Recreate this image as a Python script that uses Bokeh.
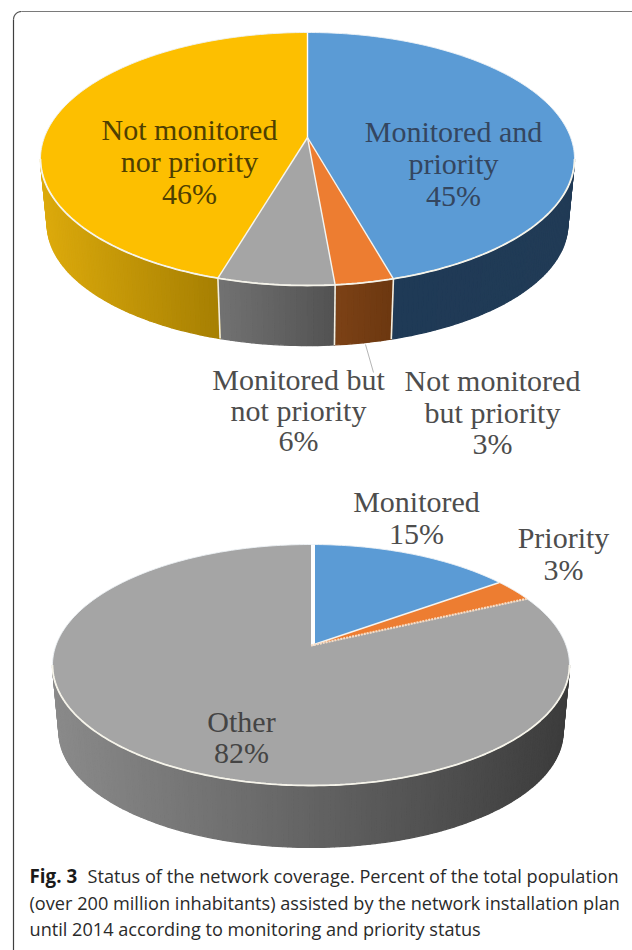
from math import sin, cos, radians, acos, degrees, sqrt

from bokeh.core.properties import value
from bokeh.embed import file_html
from bokeh.models import Range1d
from bokeh.plotting import figure
from bokeh.resources import INLINE

# Population shares per network status
upper_names = ["Monitored and priority", "Not monitored but priority",
               "Monitored but not priority", "Not monitored nor priority"]
upper_values = [45, 3, 6, 46]
upper_colors = ["#5b9bd5", "#ed7d31", "#a5a5a5", "#fdbf00"]
upper_side_left = ["#1f3a56", "#7c4216", "#727272", "#dcaa0c"]
upper_side_right = ["#213b56", "#6c3710", "#525252", "#a67f02"]

lower_names = ["Monitored", "Priority", "Other"]
lower_values = [15, 3, 82]
lower_colors = ["#5b9bd5", "#ed7d31", "#a5a5a5"]
lower_side_left = ["#1f3a58", "#7c4216", "#8a8a8a"]
lower_side_right = ["#213c5a", "#6c3710", "#3c3c3c"]

# Slice annotations: lines of text, centre x, first line y, line spacing, colour
upper_labels = [
    (["Not monitored", "nor priority", "46%"], 189, 129, 32, "#4f3f02"),
    (["Monitored and", "priority", "45%"], 453, 131, 32, "#34465f"),
    (["Monitored but", "not priority", "6%"], 298, 379, 30.5, "#4d4d4d"),
    (["Not monitored", "but priority", "3%"], 492, 380, 31.5, "#4d4d4d"),
]
lower_labels = [
    (["Monitored", "15%"], 416, 501, 32, "#4d4d4d"),
    (["Priority", "3%"], 563, 537, 32, "#4d4d4d"),
    (["Other", "82%"], 241, 721, 31, "#444444"),
]

caption_bold = "Fig. 3"
caption_lines = [
    "Status of the network coverage. Percent of the total population",
    "(over 200 million inhabitants) assisted by the network installation plan",
    "until 2014 according to monitoring and priority status",
]

SERIF = "Liberation Serif"
SANS = "Open Sans"

p = figure(width=632, height=950, output_backend="svg", toolbar_location=None,
           x_range=Range1d(0, 632), y_range=Range1d(950, 0), min_border=0)
p.axis.visible = False
p.grid.visible = False
p.outline_line_color = None
p.background_fill_color = "#ffffff"
p.border_fill_color = "#ffffff"


def mix(a, b, f):
    ca = [int(a[i:i + 2], 16) for i in (1, 3, 5)]
    cb = [int(b[i:i + 2], 16) for i in (1, 3, 5)]
    return "#%02x%02x%02x" % tuple(round(x + (y - x) * f) for x, y in zip(ca, cb))


def sweep(a, b, step=1.0):
    n = max(1, int(abs(b - a) / step))
    return [a + (b - a) * i / n for i in range(n + 1)]


def draw_pie(values, colors, side_left, side_right, geo):
    cx, cy, rx, back, front, depth_y, shrink, skew = (
        geo["cx"], geo["cy"], geo["rx"], geo["back"], geo["front"],
        geo["depth_y"], geo["shrink"], geo["skew"])
    # Perspective disc: derived from the apparent back and front radii
    k = (front - back) / (front + back)
    B = back * (1 + k)
    A = rx * sqrt(1 - k * k)

    def place(t, low=False):
        u, v = sin(radians(t)), -cos(radians(t))
        w = 1 - k * v
        if low:
            return cx + shrink * A * u / w, cy + depth_y + 0.96 * B * v / w
        return cx + A * u / w, cy + B * v / w

    def turned(share):
        t = share * 3.6
        return t + skew * sin(radians(t / 2)) ** 2

    edges = [0.0]
    for val in values:
        edges.append(edges[-1] + val)
    angles = [turned(e) for e in edges]

    t_right = degrees(acos(-k))
    t_left = 360 - t_right

    # Outer wall, built from narrow quads to give a horizontal colour ramp
    qx, qy, qc = [], [], []
    for i in range(len(values)):
        a, b = max(angles[i], t_right), min(angles[i + 1], t_left)
        if a >= b:
            continue
        lo = place(a)[0]
        hi = place(b)[0]
        ts = sweep(a, b)
        for t0, t1 in zip(ts[:-1], ts[1:]):
            p0, p1 = place(t0), place(t1)
            q1, q0 = place(t1, True), place(t0, True)
            qx.append([p0[0], p1[0], q1[0], q0[0]])
            qy.append([p0[1], p1[1], q1[1], q0[1]])
            f = (p0[0] + p1[0]) / 2
            f = (f - hi) / (lo - hi) if lo != hi else 0
            qc.append(mix(side_left[i], side_right[i], min(max(f, 0), 1)))
    p.patches(qx, qy, fill_color=qc, line_color=qc, line_width=1.3)

    # Slice dividers on the wall
    for ang in angles[1:-1]:
        if t_right < ang < t_left:
            top, low = place(ang), place(ang, True)
            p.line([top[0], low[0]], [top[1], low[1]], line_color="#f3efe2", line_width=1.6)

    # Top face
    for i in range(len(values)):
        rim = [place(t) for t in sweep(angles[i], angles[i + 1])]
        xs = [cx] + [r[0] for r in rim]
        ys = [cy] + [r[1] for r in rim]
        p.patch(xs, ys, fill_color=colors[i], line_color=None)

    # Pale edge around the whole disc, heavier along the front
    rim = [place(t) for t in sweep(0, 360)]
    p.line([r[0] for r in rim], [r[1] for r in rim], line_color="#eef3f6", line_width=0.9)
    rim = [place(t) for t in sweep(t_right, t_left)]
    p.line([r[0] for r in rim], [r[1] for r in rim], line_color="#f6f4ea", line_width=1.8)

    # Radial dividers
    for j, ang in enumerate(angles[:-1]):
        end = place(ang)
        if j == 0:
            nudge = geo["first_nudge"]
            p.line([cx + nudge, end[0] + nudge], [cy, end[1]], line_color="#ffffff",
                   line_width=geo["first_edge"])
        elif j == geo.get("dashed_edge"):
            p.line([cx, end[0]], [cy, end[1]], line_color="#f7dcc4", line_width=2.2,
                   line_dash="2 1")
        else:
            p.line([cx, end[0]], [cy, end[1]], line_color="#f4f4f0", line_width=1.4)


def draw_labels(entries):
    for lines, x, y, gap, color in entries:
        ys = [y + gap * i for i in range(len(lines))]
        p.text([x] * len(lines), ys, text=lines, text_font=value(SERIF),
               text_font_size="30px", text_color=color, text_align="center",
               text_baseline="middle")


# Rounded panel edge, open towards the right and bottom of the page
corner = sweep(180, 90, 10)
cxs = [21 + 8 * cos(radians(t)) for t in corner]
cys = [19 - 8 * sin(radians(t)) for t in corner]
p.line([13, 13], [950, 19], line_color="#3f3f3f", line_width=1.2)
p.line(cxs, cys, line_color="#555555", line_width=1.2)
p.line([21, 632], [11, 11], line_color="#7a7a7a", line_width=1.2)

draw_pie(upper_values, upper_colors, upper_side_left, upper_side_right,
         dict(cx=307, cy=137, rx=267, back=105, front=148, depth_y=66,
              shrink=0.975, skew=2.2, first_edge=1.4, first_nudge=0))
draw_pie(lower_values, lower_colors, lower_side_left, lower_side_right,
         dict(cx=310.5, cy=645, rx=258.5, back=101, front=140, depth_y=67.5,
              shrink=0.975, skew=0, first_edge=4, first_nudge=2, dashed_edge=2))

# Leader from the small slice to its annotation
p.line([365, 373], [344, 372], line_color="#b5b5b5", line_width=1)

draw_labels(upper_labels)
draw_labels(lower_labels)

# Caption
caption_y = [875, 902, 928]
p.text([29], [caption_y[0]], text=[caption_bold], text_font=value(SANS), text_font_style="bold",
       text_font_size="18.8px", text_color="#1a1a1a", text_baseline="middle")
p.text([87, 29, 29], caption_y, text=caption_lines, text_font=value(SANS),
       text_font_size="18.15px", text_color="#2a2a2a", text_baseline="middle")

open("out.html", "w").write(file_html(p, INLINE))
